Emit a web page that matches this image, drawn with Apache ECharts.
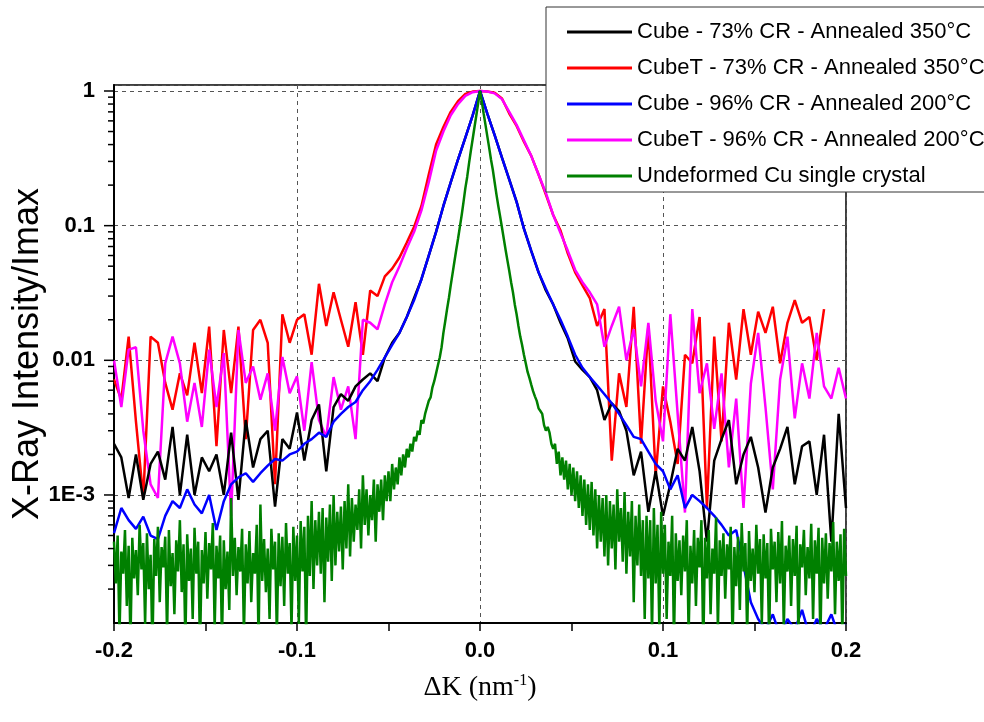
<!DOCTYPE html>
<html><head><meta charset="utf-8">
<script src="https://cdn.jsdelivr.net/npm/echarts@6/dist/echarts.min.js"></script>
<style>html,body{margin:0;padding:0;background:#fff}#c{width:984px;height:722px}</style>
</head><body><div id="c"></div>
<script>
// ---- data ----
const dK = [-0.200,-0.196,-0.192,-0.188,-0.184,-0.180,-0.176,-0.172,-0.168,-0.164,
-0.160,-0.156,-0.152,-0.148,-0.144,-0.140,-0.136,-0.132,-0.128,-0.124,
-0.120,-0.116,-0.112,-0.108,-0.104,-0.100,-0.096,-0.092,-0.088,-0.084,
-0.080,-0.076,-0.072,-0.068,-0.064,-0.060,-0.056,-0.052,-0.048,-0.044,
-0.040,-0.036,-0.032,-0.028,-0.024,-0.020,-0.016,-0.012,-0.008,-0.004,
0,
0.004,0.008,0.012,0.016,0.020,0.024,0.028,0.032,0.036,0.040,
0.044,0.048,0.052,0.056,0.060,0.064,0.068,0.072,0.076,0.080,
0.084,0.088,0.092,0.096,0.100,0.104,0.108,0.112,0.116,0.120,
0.124,0.128,0.132,0.136,0.140,0.144,0.148,0.152,0.156,0.160,
0.164,0.168,0.172,0.176,0.180,0.184,0.188,0.192,0.196,0.200];

const cube73 = [0.0024,0.0019,9.5e-4,0.0020,9.2e-4,0.0017,0.0021,0.0013,0.0032,1.0e-3,
0.0028,1.0e-3,0.0019,0.0015,0.0020,1.0e-3,0.0029,9.2e-4,0.0036,0.0016,
0.0026,0.0030,8.2e-4,0.0026,0.0022,0.0041,0.0018,0.0036,0.0047,0.0015,
0.0045,0.0056,0.0050,0.0064,0.0072,0.0080,0.0070,0.0105,0.0135,0.016,
0.021,0.029,0.040,0.060,0.090,0.14,0.21,0.31,0.45,0.66,
1.0,
0.68,0.47,0.32,0.22,0.15,0.095,0.065,0.045,0.033,0.026,
0.019,0.0145,0.0098,0.0085,0.0075,0.0060,0.0036,0.0048,0.0042,0.0030,
0.0014,0.0021,7.5e-4,0.0015,7.0e-4,0.0012,0.0022,0.0018,0.0032,0.0015,
4.5e-4,0.0018,0.0026,0.0036,0.0012,0.0020,0.0027,0.0016,7.4e-4,0.0016,
0.0022,0.0032,0.0012,0.0023,0.0025,0.0010,0.0028,4.5e-4,0.0040,8.0e-4];

const cubeT73 = [0.0072,0.0051,0.015,0.0035,9.5e-4,0.015,0.0135,0.0068,0.0043,0.008,
0.0055,0.0135,0.0057,0.0178,0.0023,0.0168,0.0057,0.0178,0.0026,0.0168,
0.020,0.0135,0.0012,0.022,0.0135,0.020,0.022,0.011,0.037,0.018,
0.032,0.020,0.0126,0.027,0.011,0.033,0.030,0.042,0.048,0.058,
0.075,0.098,0.14,0.24,0.40,0.54,0.70,0.84,0.95,0.99,
1.0,
0.99,0.97,0.88,0.68,0.55,0.42,0.33,0.24,0.17,0.12,
0.092,0.062,0.045,0.036,0.029,0.018,0.024,0.0018,0.008,0.0045,
0.025,0.0024,0.018,0.0014,0.0064,0.0035,0.0017,0.011,0.0095,0.021,
8e-4,0.015,0.0025,0.019,0.0072,0.024,0.011,0.023,0.016,0.025,
0.0095,0.019,0.028,0.019,0.021,0.010,0.024,null,null,null];

const cube96 = [5.2e-4,8.0e-4,6.5e-4,5.6e-4,6.9e-4,5.0e-4,4.7e-4,7.0e-4,9.0e-4,8.0e-4,
1.1e-3,8.5e-4,7.3e-4,1.0e-3,5.5e-4,9.0e-4,1.2e-3,1.35e-3,1.45e-3,1.25e-3,
1.45e-3,1.65e-3,1.85e-3,1.8e-3,2.0e-3,2.1e-3,2.4e-3,2.6e-3,2.9e-3,2.7e-3,
3.5e-3,4.0e-3,4.5e-3,4.9e-3,6.0e-3,7.0e-3,8.5e-3,1.05e-2,1.3e-2,1.6e-2,
2.1e-2,2.8e-2,4.0e-2,6.0e-2,9.0e-2,0.14,0.21,0.31,0.45,0.66,
1.0,
0.68,0.47,0.32,0.22,0.15,0.095,0.065,0.045,0.034,0.026,
0.020,0.015,0.011,0.0088,0.0075,0.0065,0.0056,0.0048,0.0040,0.0033,
0.0027,0.0026,0.0021,0.0017,0.0015,0.0011,0.0014,8e-4,1.0e-3,9e-4,
8e-4,7e-4,6e-4,5e-4,5.5e-4,3.0e-4,1.6e-4,1.2e-4,1.0e-4,1.3e-4,
9e-5,1.2e-4,1.0e-4,1.4e-4,9e-5,1.2e-4,1.0e-4,1.3e-4,9e-5,1.1e-4];

const cubeT96 = [0.010,0.0045,0.012,0.0125,0.0030,0.0012,9.5e-4,0.0095,0.015,0.0095,
0.0035,0.0068,0.0032,0.012,0.0045,0.0113,7.0e-4,0.0168,0.0068,0.009,
0.0051,0.008,0.003,0.0106,0.0057,0.0076,0.003,0.0097,0.0036,0.0027,
0.0075,0.0043,0.0064,0.0026,0.020,0.019,0.017,0.026,0.038,0.050,
0.068,0.090,0.13,0.21,0.36,0.50,0.66,0.80,0.92,0.98,
1.0,
0.99,0.96,0.87,0.70,0.56,0.43,0.33,0.24,0.175,0.12,
0.088,0.065,0.047,0.038,0.032,0.026,0.0126,0.018,0.025,0.010,
0.017,0.0064,0.019,0.005,0.0025,0.022,0.004,7.4e-4,0.024,0.0057,
0.0095,0.0031,0.008,0.0016,0.0052,8e-4,0.0067,0.016,0.0045,0.0011,
0.0072,0.015,0.0037,0.0095,0.0052,0.016,0.0064,0.0052,0.0088,0.0052];

const dKGreen = [
-0.200,-0.199,-0.198,-0.197,-0.196,-0.195,-0.194,-0.193,-0.192,-0.191,
-0.190,-0.189,-0.188,-0.187,-0.186,-0.185,-0.184,-0.183,-0.182,-0.181,
-0.180,-0.179,-0.178,-0.177,-0.176,-0.175,-0.174,-0.173,-0.172,-0.171,
-0.170,-0.169,-0.168,-0.167,-0.166,-0.165,-0.164,-0.163,-0.162,-0.161,
-0.160,-0.159,-0.158,-0.157,-0.156,-0.155,-0.154,-0.153,-0.152,-0.151,
-0.150,-0.149,-0.148,-0.147,-0.146,-0.145,-0.144,-0.143,-0.142,-0.141,
-0.140,-0.139,-0.138,-0.137,-0.136,-0.135,-0.134,-0.133,-0.132,-0.131,
-0.130,-0.129,-0.128,-0.127,-0.126,-0.125,-0.124,-0.123,-0.122,-0.121,
-0.120,-0.119,-0.118,-0.117,-0.116,-0.115,-0.114,-0.113,-0.112,-0.111,
-0.110,-0.109,-0.108,-0.107,-0.106,-0.105,-0.104,-0.103,-0.102,-0.101,
-0.100,-0.099,-0.098,-0.097,-0.096,-0.095,-0.094,-0.093,-0.092,-0.091,
-0.090,-0.089,-0.088,-0.087,-0.086,-0.085,-0.084,-0.083,-0.082,-0.081,
-0.080,-0.079,-0.078,-0.077,-0.076,-0.075,-0.074,-0.073,-0.072,-0.071,
-0.070,-0.069,-0.068,-0.067,-0.066,-0.065,-0.064,-0.063,-0.062,-0.061,
-0.060,-0.059,-0.058,-0.057,-0.056,-0.055,-0.054,-0.053,-0.052,-0.051,
-0.050,-0.049,-0.048,-0.047,-0.046,-0.045,-0.044,-0.043,-0.042,-0.041,
-0.040,-0.039,-0.038,-0.037,-0.036,-0.035,-0.034,-0.033,-0.032,-0.031,
-0.030,-0.029,-0.028,-0.027,-0.026,-0.025,-0.024,-0.023,-0.022,-0.021,
-0.020,-0.019,-0.018,-0.017,-0.016,-0.015,-0.014,-0.013,-0.012,-0.011,
-0.010,-0.009,-0.008,-0.007,-0.006,-0.005,-0.004,-0.003,-0.002,-0.001,
0,
0.001,0.002,0.003,0.004,0.005,0.006,0.007,0.008,0.009,0.010,
0.011,0.012,0.013,0.014,0.015,0.016,0.017,0.018,0.019,0.020,
0.021,0.022,0.023,0.024,0.025,0.026,0.027,0.028,0.029,0.030,
0.031,0.032,0.033,0.034,0.035,0.036,0.037,0.038,0.039,0.040,
0.041,0.042,0.043,0.044,0.045,0.046,0.047,0.048,0.049,0.050,
0.051,0.052,0.053,0.054,0.055,0.056,0.057,0.058,0.059,0.060,
0.061,0.062,0.063,0.064,0.065,0.066,0.067,0.068,0.069,0.070,
0.071,0.072,0.073,0.074,0.075,0.076,0.077,0.078,0.079,0.080,
0.081,0.082,0.083,0.084,0.085,0.086,0.087,0.088,0.089,0.090,
0.091,0.092,0.093,0.094,0.095,0.096,0.097,0.098,0.099,0.100,
0.101,0.102,0.103,0.104,0.105,0.106,0.107,0.108,0.109,0.110,
0.111,0.112,0.113,0.114,0.115,0.116,0.117,0.118,0.119,0.120,
0.121,0.122,0.123,0.124,0.125,0.126,0.127,0.128,0.129,0.130,
0.131,0.132,0.133,0.134,0.135,0.136,0.137,0.138,0.139,0.140,
0.141,0.142,0.143,0.144,0.145,0.146,0.147,0.148,0.149,0.150,
0.151,0.152,0.153,0.154,0.155,0.156,0.157,0.158,0.159,0.160,
0.161,0.162,0.163,0.164,0.165,0.166,0.167,0.168,0.169,0.170,
0.171,0.172,0.173,0.174,0.175,0.176,0.177,0.178,0.179,0.180,
0.181,0.182,0.183,0.184,0.185,0.186,0.187,0.188,0.189,0.190,
0.191,0.192,0.193,0.194,0.195,0.196,0.197,0.198,0.199,0.200];

const cuCrystal = [
4.5e-4,2.2e-4,5.0e-4,9e-5,3.8e-4,2.6e-4,5.5e-4,1.5e-4,4.2e-4,8e-5,
4.8e-4,2.4e-4,3.9e-4,1.8e-4,6.0e-4,2.8e-4,4.4e-4,1.1e-4,5.2e-4,2.0e-4,
3.6e-4,7e-5,4.7e-4,2.5e-4,5.8e-4,1.6e-4,4.1e-4,2.9e-4,4.9e-4,9e-5,
5.5e-4,2.1e-4,3.7e-4,1.3e-4,4.6e-4,2.7e-4,6.5e-4,1.9e-4,4.3e-4,8e-5,
5.1e-4,2.3e-4,4.0e-4,1.2e-4,5.7e-4,2.6e-4,4.5e-4,7e-5,3.9e-4,2.2e-4,
5.3e-4,1.7e-4,4.4e-4,2.8e-4,6.2e-4,1.0e-4,4.2e-4,2.4e-4,5.0e-4,8e-5,
4.6e-4,2.0e-4,3.8e-4,1.4e-4,9.5e-4,2.5e-4,4.8e-4,1.8e-4,4.1e-4,2.7e-4,
5.6e-4,9e-5,4.3e-4,2.2e-4,5.4e-4,1.6e-4,3.7e-4,2.6e-4,6.0e-4,8e-5,
8.5e-4,2.3e-4,4.7e-4,1.9e-4,4.0e-4,1.2e-4,5.6e-4,2.8e-4,4.5e-4,9e-5,
5.2e-4,2.1e-4,4.9e-4,1.5e-4,6.2e-4,2.6e-4,4.4e-4,1.0e-4,5.8e-4,2.3e-4,
5.0e-4,1.1e-4,6.4e-4,2.7e-4,5.8e-4,8e-5,7.0e-4,2.5e-4,9.0e-4,2.0e-4,
6.5e-4,3.0e-4,7.5e-4,2.6e-4,8.0e-4,1.6e-4,6.8e-4,3.2e-4,8.5e-4,2.3e-4,
1.0e-3,3.0e-4,7.5e-4,3.8e-4,8.2e-4,2.8e-4,9.0e-4,4.0e-4,1.2e-3,3.5e-4,
9.5e-4,4.5e-4,8.5e-4,5.5e-4,1.1e-3,4.0e-4,1.4e-3,6.0e-4,1.1e-3,5.0e-4,
1.0e-3,6.5e-4,1.3e-3,4.5e-4,1.2e-3,7.5e-4,1.3e-3,6.5e-4,1.4e-3,9.0e-4,
1.5e-3,9.0e-4,1.7e-3,1.1e-3,1.6e-3,1.2e-3,1.9e-3,1.4e-3,2.0e-3,1.6e-3,
2.2e-3,1.9e-3,2.4e-3,2.1e-3,2.7e-3,2.5e-3,3.0e-3,2.8e-3,3.6e-3,3.4e-3,
4.0e-3,4.1e-3,5.0e-3,5.3e-3,6.3e-3,7.0e-3,8.0e-3,9.2e-3,1.05e-2,1.25e-2,
1.6e-2,1.95e-2,2.4e-2,2.9e-2,3.6e-2,4.4e-2,5.4e-2,6.6e-2,8.0e-2,9.8e-2,
0.12,0.15,0.19,0.23,0.29,0.36,0.44,0.54,0.66,0.81,
1.0,
0.83,0.68,0.56,0.46,0.38,0.31,0.26,0.21,0.17,0.14,
0.117,0.097,0.080,0.066,0.055,0.046,0.038,0.032,0.026,0.022,
0.018,0.015,0.013,0.011,0.0095,0.0082,0.0074,0.0066,0.0059,0.0054,
0.0050,0.0044,0.0042,0.0040,0.0033,0.0030,0.0032,0.0029,0.0024,0.0022,
0.0024,0.0017,0.0021,0.0014,0.0019,0.0013,0.0018,0.0011,0.0017,0.0010,
0.0016,9.0e-4,0.0015,8.0e-4,1.4e-3,7.0e-4,1.3e-3,6.0e-4,1.2e-3,5.5e-4,
1.25e-3,5.0e-4,1.1e-3,4.0e-4,1.0e-3,4.5e-4,9.5e-4,3.5e-4,1.0e-3,3.0e-4,
9.0e-4,4.0e-4,8.5e-4,2.8e-4,1.1e-3,4.5e-4,8.0e-4,3.2e-4,1.05e-3,2.6e-4,
7.5e-4,3.5e-4,9.0e-4,1.6e-4,7.0e-4,3.0e-4,8.5e-4,2.5e-4,6.5e-4,1.2e-4,
7.0e-4,2.4e-4,6.5e-4,9e-5,8.0e-4,2.2e-4,6.0e-4,1.0e-4,7.5e-4,2.6e-4,
6.0e-4,1.2e-4,4.5e-4,2.5e-4,7.0e-4,8e-5,5.2e-4,2.3e-4,4.6e-4,1.8e-4,
5.0e-4,2.7e-4,6.5e-4,9e-5,4.2e-4,2.2e-4,5.5e-4,1.5e-4,4.8e-4,2.9e-4,
6.5e-4,7e-5,4.8e-4,2.4e-4,5.5e-4,1.3e-4,4.0e-4,2.6e-4,6.8e-4,1.0e-4,
4.6e-4,2.5e-4,5.2e-4,1.7e-4,4.3e-4,2.8e-4,5.8e-4,8e-5,4.1e-4,2.1e-4,
4.9e-4,1.4e-4,6.2e-4,2.7e-4,4.4e-4,9e-5,5.4e-4,2.3e-4,4.0e-4,1.9e-4,
6.0e-4,2.6e-4,4.7e-4,1.1e-4,5.1e-4,2.4e-4,4.4e-4,8e-5,5.6e-4,2.8e-4,
4.5e-4,1.6e-4,5.3e-4,2.2e-4,6.4e-4,1.0e-4,4.2e-4,2.7e-4,5.0e-4,1.5e-4,
4.7e-4,2.5e-4,5.9e-4,9e-5,4.3e-4,2.9e-4,5.5e-4,1.8e-4,4.1e-4,2.4e-4,
6.1e-4,1.2e-4,4.6e-4,2.6e-4,5.7e-4,8e-5,4.8e-4,2.2e-4,5.2e-4,1.7e-4,
4.4e-4,2.7e-4,6.3e-4,1.3e-4,4.5e-4,2.3e-4,5.1e-4,9e-5,5.6e-4,2.5e-4];

const seriesNames = ['Cube - 73% CR - Annealed 350°C','CubeT - 73% CR - Annealed 350°C',
  'Cube - 96% CR - Annealed 200°C','CubeT - 96% CR - Annealed 200°C','Undeformed Cu single crystal'];
const xTickValues = [-0.2,-0.1,0,0.1,0.2];
const xTickLabels = ['-0.2','-0.1','0.0','0.1','0.2'];
const yTickValues = [1,0.1,0.01,0.001];
const yTickLabels = ['1','0.1','0.01','1E-3'];
const yMinorTickValues = [2e-4,3e-4,4e-4,5e-4,6e-4,7e-4,8e-4,9e-4,
  2e-3,3e-3,4e-3,5e-3,6e-3,7e-3,8e-3,9e-3,
  0.02,0.03,0.04,0.05,0.06,0.07,0.08,0.09,
  0.2,0.3,0.4,0.5,0.6,0.7,0.8,0.9];

// ---- chart ----
const X_MIN = -0.2, X_MAX = 0.2, Y_MIN = 1.12e-4, Y_MAX = 1.108;
const FONT = "'Liberation Sans', Arial, sans-serif";
const SERIF = "'Liberation Serif', 'Times New Roman', serif";
const pairs = (xs, ys) => xs.map((x, i) => [x, ys[i]]);
const chart = echarts.init(document.getElementById('c'), null, {renderer: 'canvas'});

function lineSeries(name, xs, ys, color, width) {
  return {type: 'line', name, data: pairs(xs, ys), symbol: 'none', showSymbol: false,
    connectNulls: false, clip: true, animation: false,
    lineStyle: {color, width}, itemStyle: {color}};
}

const tickData = yTickValues.map(v => [X_MIN, v, 1]).concat(yMinorTickValues.map(v => [X_MIN, v, 0]));

chart.setOption({
  animation: false,
  backgroundColor: '#fff',
  grid: {left: 114, right: 138, top: 85, bottom: 99, show: true, containLabel: false, outerBoundsMode: 'none',
    borderColor: '#000', borderWidth: 1.5, backgroundColor: 'transparent'},
  legend: {
    data: seriesNames, orient: 'vertical', left: 546, top: 7,
    backgroundColor: '#fff', borderColor: '#333', borderWidth: 1,
    padding: [13, 40, 4, 21], itemWidth: 65, itemHeight: 3, itemGap: 12, icon: 'rect',
    textStyle: {fontFamily: FONT, fontSize: 22, color: '#000', lineHeight: 24},
    z: 20
  },
  xAxis: [{
    type: 'value', min: X_MIN, max: X_MAX, interval: 0.05,
    axisLine: {show: true, onZero: false, lineStyle: {color: '#000', width: 2}},
    axisTick: {show: true, inside: false, length: 8, lineStyle: {color: '#000', width: 1.5}},
    axisLabel: {margin: 17, color: '#000', fontFamily: FONT, fontSize: 22, fontWeight: 'bold',
      formatter: v => { const k = xTickValues.findIndex(t => Math.abs(t - v) < 1e-9); return k >= 0 ? xTickLabels[k] : ''; }},
    splitLine: {show: false},
    name: '{a|ΔK (nm}{s|-1}{a|)}', nameLocation: 'middle', nameGap: 47, nameMoveOverlap: false,
    nameTextStyle: {rich: {
      a: {fontFamily: SERIF, fontSize: 28, color: '#000', verticalAlign: 'bottom', lineHeight: 32},
      s: {fontFamily: SERIF, fontSize: 16, color: '#000', verticalAlign: 'bottom', lineHeight: 32, padding: [0, 0, 13, 0]}
    }}
  }, {
    type: 'value', min: X_MIN, max: X_MAX, interval: 0.1, position: 'top',
    axisLine: {show: false}, axisTick: {show: false}, axisLabel: {show: false},
    splitLine: {show: true, lineStyle: {color: '#555', width: 1, type: [4, 4]}}
  }],
  yAxis: {
    type: 'log', logBase: 10, min: Y_MIN, max: Y_MAX,
    axisLine: {show: true, onZero: false, lineStyle: {color: '#000', width: 2}},
    axisTick: {show: false},
    axisLabel: {margin: 19, color: '#000', fontFamily: FONT, fontSize: 22, fontWeight: 'bold',
      showMinLabel: false, showMaxLabel: false,
      formatter: v => { const k = yTickValues.findIndex(t => Math.abs(Math.log10(t) - Math.log10(v)) < 1e-6); return k >= 0 ? yTickLabels[k] : ''; }},
    splitLine: {show: true, lineStyle: {color: '#555', width: 1, type: [4, 4]}},
    minorTick: {show: false},
    name: 'X-Ray Intensity/Imax', nameLocation: 'middle', nameGap: 68, nameRotate: 90, nameMoveOverlap: false,
    nameTextStyle: {fontFamily: FONT, fontSize: 36, color: '#000'}
  },
  series: [
    lineSeries(seriesNames[1], dK, cubeT73, '#ff0000', 2.5),
    lineSeries(seriesNames[3], dK, cubeT96, '#ff00ff', 2.5),
    lineSeries(seriesNames[0], dK, cube73, '#000000', 2.5),
    lineSeries(seriesNames[2], dK, cube96, '#0000ff', 2.5),
    lineSeries(seriesNames[4], dKGreen, cuCrystal, '#008000', 2.5),
    {
      type: 'custom', name: 'yTicks', coordinateSystem: 'cartesian2d', silent: true, clip: false, z: 10,
      data: tickData, encode: {x: 0, y: 1},
      renderItem: (params, api) => {
        const p = api.coord([api.value(0), api.value(1)]);
        const len = api.value(2) ? 10 : 6;
        return {type: 'line', shape: {x1: p[0] - len, y1: p[1], x2: p[0], y2: p[1]},
          style: {stroke: '#000', lineWidth: 1.5}};
      }
    }
  ]
});
</script>
</body></html>
